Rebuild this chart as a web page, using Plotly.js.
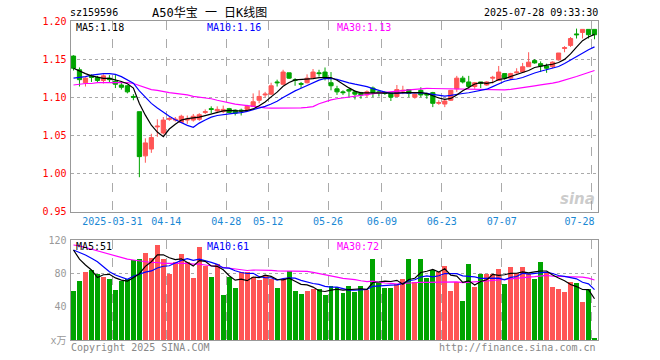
<!DOCTYPE html>
<html><head><meta charset="utf-8">
<script src="https://cdn.plot.ly/plotly-3.0.1.min.js"></script>
<style>html,body{margin:0;padding:0;background:#fff}#c{width:660px;height:360px}</style>
</head><body><div id="c"></div>
<script>
// ---- data (trading-day index 0..87, last = 2025-07-28) ----
const openP  = [1.154,1.136,1.119,1.128,1.126,1.122,1.125,1.121,1.116,1.115,1.101,1.081,1.023,1.032,1.061,1.053,1.071,1.070,1.067,1.070,1.070,1.071,1.080,1.085,1.082,1.081,1.085,1.083,1.083,1.084,1.088,1.096,1.103,1.104,1.120,1.117,1.132,1.123,1.118,1.119,1.125,1.132,1.133,1.119,1.111,1.107,1.110,1.107,1.106,1.103,1.112,1.107,1.106,1.105,1.101,1.108,1.110,1.100,1.109,1.104,1.106,1.092,1.091,1.096,1.111,1.125,1.120,1.114,1.120,1.116,1.125,1.122,1.131,1.125,1.132,1.133,1.140,1.148,1.144,1.141,1.140,1.149,1.164,1.168,1.183,1.185,1.189,1.189];
const highP  = [1.155,1.139,1.126,1.130,1.128,1.130,1.129,1.129,1.119,1.116,1.104,1.081,1.046,1.052,1.071,1.074,1.075,1.074,1.077,1.076,1.078,1.079,1.084,1.088,1.088,1.089,1.086,1.084,1.085,1.090,1.105,1.109,1.107,1.119,1.123,1.136,1.132,1.125,1.120,1.130,1.137,1.136,1.139,1.133,1.115,1.109,1.111,1.109,1.107,1.109,1.114,1.108,1.108,1.105,1.116,1.115,1.110,1.105,1.113,1.106,1.107,1.096,1.098,1.109,1.128,1.128,1.128,1.120,1.120,1.121,1.128,1.141,1.131,1.132,1.138,1.145,1.159,1.150,1.147,1.144,1.147,1.158,1.167,1.179,1.190,1.189,1.189,1.189];
const lowP   = [1.135,1.114,1.114,1.120,1.119,1.118,1.119,1.112,1.110,1.105,1.096,0.995,1.014,1.027,1.048,1.051,1.069,1.068,1.066,1.065,1.068,1.069,1.078,1.079,1.079,1.079,1.079,1.076,1.076,1.083,1.087,1.092,1.100,1.103,1.114,1.116,1.124,1.115,1.112,1.118,1.125,1.127,1.122,1.109,1.103,1.103,1.100,1.097,1.098,1.100,1.100,1.101,1.103,1.095,1.101,1.104,1.100,1.098,1.100,1.098,1.087,1.090,1.087,1.095,1.107,1.118,1.111,1.111,1.112,1.115,1.118,1.122,1.123,1.123,1.131,1.133,1.140,1.144,1.133,1.132,1.138,1.148,1.159,1.166,1.177,1.177,1.177,1.176];
const closeP = [1.138,1.123,1.125,1.126,1.122,1.128,1.123,1.117,1.113,1.107,1.100,1.022,1.040,1.047,1.062,1.070,1.072,1.071,1.075,1.071,1.075,1.077,1.081,1.084,1.084,1.084,1.080,1.079,1.082,1.088,1.094,1.101,1.104,1.115,1.119,1.133,1.125,1.122,1.117,1.125,1.133,1.131,1.125,1.115,1.107,1.106,1.108,1.104,1.103,1.107,1.106,1.106,1.105,1.100,1.110,1.109,1.105,1.104,1.103,1.103,1.092,1.093,1.095,1.109,1.125,1.120,1.114,1.119,1.118,1.120,1.126,1.133,1.125,1.131,1.133,1.140,1.146,1.145,1.141,1.138,1.146,1.158,1.165,1.177,1.182,1.189,1.182,1.182];
const ma5  = [1.138,1.134,1.131,1.128,1.1268,1.1248,1.1248,1.1232,1.1206,1.1176,1.112,1.0918,1.0764,1.0632,1.0542,1.0482,1.0582,1.0644,1.07,1.0718,1.0728,1.0738,1.0758,1.0776,1.0802,1.082,1.0826,1.0822,1.0818,1.0826,1.0846,1.0888,1.0938,1.1004,1.1066,1.1144,1.1192,1.1228,1.1232,1.1244,1.1244,1.1256,1.1262,1.1258,1.1222,1.1168,1.1122,1.108,1.1056,1.1056,1.1056,1.1052,1.1054,1.1048,1.1054,1.106,1.1058,1.1056,1.1062,1.1048,1.1014,1.099,1.0972,1.0984,1.1028,1.1084,1.1126,1.1174,1.1192,1.1182,1.1194,1.1232,1.1244,1.127,1.1296,1.1324,1.135,1.139,1.141,1.142,1.1432,1.1456,1.1496,1.1568,1.1656,1.1742,1.179,1.1824];
const ma10 = [1.125,1.126,1.127,1.129,1.130,1.131,1.131,1.130,1.127,1.1222,1.1184,1.1083,1.0998,1.0919,1.0859,1.0801,1.075,1.0704,1.0666,1.063,1.0605,1.066,1.0701,1.0738,1.076,1.0774,1.0782,1.079,1.0797,1.0814,1.0833,1.0857,1.088,1.0911,1.0946,1.0995,1.104,1.1083,1.1118,1.1155,1.1194,1.1224,1.1245,1.1245,1.1233,1.1206,1.1189,1.1171,1.1157,1.1139,1.1112,1.1087,1.1067,1.1052,1.1055,1.1058,1.1055,1.1055,1.1055,1.1051,1.1037,1.1024,1.1014,1.1023,1.1038,1.1049,1.1058,1.1073,1.1088,1.1105,1.1139,1.1179,1.1209,1.1231,1.1239,1.1259,1.1291,1.1317,1.134,1.1358,1.1378,1.1403,1.1443,1.1489,1.1538,1.1587,1.1623,1.166];
const ma30 = [1.116,1.117,1.118,1.118,1.119,1.119,1.119,1.119,1.119,1.119,1.118,1.115,1.113,1.110,1.109,1.107,1.106,1.105,1.104,1.103,1.101,1.100,1.099,1.098,1.096,1.094,1.092,1.091,1.090,1.0889,1.0874,1.0867,1.086,1.0856,1.0855,1.0857,1.0857,1.0859,1.086,1.0866,1.0877,1.0914,1.0942,1.0965,1.098,1.0992,1.1004,1.1015,1.1024,1.1036,1.1046,1.1056,1.1064,1.1069,1.1078,1.1086,1.1095,1.1103,1.111,1.1115,1.1114,1.1112,1.1109,1.1107,1.1109,1.1104,1.1101,1.11,1.11,1.1098,1.1096,1.1097,1.1097,1.1102,1.1111,1.1122,1.1135,1.1148,1.1161,1.1171,1.1185,1.1202,1.1222,1.1248,1.1272,1.1298,1.1324,1.135];
const volume = [58.8,70.8,81.6,84,79.6,75.6,73.2,60,71.2,73.2,96,97.2,104.4,98.8,114,96.8,79.6,93.2,103.2,93.2,74.4,112,89.2,75.6,90.8,54,76,62.8,81.6,81.6,76,72.4,78,73.6,62.8,73.6,83.2,58.8,55.6,59.2,60.8,61.2,54,64.4,64,56,64.8,58,64.8,60,97.2,68,62.8,62.8,67.2,73.2,97.2,70,97.2,74.8,84,82,89.2,58.8,69.2,46.8,91.2,64,79.6,79.6,79.6,85.2,67.6,88,80,87.6,79.6,73.2,93.6,80,63.6,61.2,57.6,70,68,46,60.8,2.8];
// volume bar colour: 1 = red, 0 = green
const volUp = [0,0,1,0,0,1,0,0,0,0,0,0,1,1,1,1,1,1,1,1,1,1,1,0,1,0,0,0,1,1,1,1,1,1,0,1,0,0,0,1,1,0,0,0,0,0,0,0,0,1,0,0,0,0,1,1,0,1,0,0,0,1,1,1,1,0,0,1,0,1,1,1,0,1,1,1,1,0,0,1,1,1,1,1,0,1,0,0];
const vma5  = [108,97,90,84,75.0,78.3,78.8,74.5,71.9,70.6,74.7,79.5,88.4,93.9,102.1,102.2,98.7,96.5,97.4,93.2,88.7,95.2,94.4,88.9,88.4,84.3,77.1,71.8,73.0,71.2,75.6,74.9,77.9,76.3,72.6,72.1,74.2,70.4,66.8,66.1,63.5,59.1,58.2,59.9,60.9,59.9,60.6,61.4,61.5,60.7,69.0,69.6,70.6,70.2,71.6,66.8,72.6,74.1,81.0,82.5,84.6,81.6,85.4,77.8,76.6,69.2,71.0,66.0,70.2,72.2,78.8,77.6,78.3,80.0,80.1,81.7,80.6,81.7,82.8,82.8,78.0,74.3,71.2,66.5,64.1,60.6,60.5,49.5];
const vma10 = [108,105,102,98,94,88,82,78,75,72.8,76.5,79.2,81.4,82.9,86.4,88.5,89.1,92.4,95.6,97.6,95.5,97.0,95.4,93.1,90.8,86.5,86.2,83.1,81.0,79.8,80.0,76.0,74.9,74.7,71.9,73.8,74.6,74.2,71.6,69.3,67.8,66.7,64.3,63.4,63.5,61.7,59.9,59.8,60.7,60.8,64.4,65.1,66.0,65.8,66.2,67.9,71.1,72.3,75.6,77.0,75.7,77.1,79.8,79.4,79.6,76.9,76.3,75.7,74.0,74.4,74.0,74.3,72.2,75.1,76.2,80.2,79.1,80.0,81.4,81.4,79.8,77.4,76.4,74.6,73.4,69.3,67.4,60.4];
const vma30 = [114,113,111,109,107,105,103,101,99,97,96,95,94,93,93,92,92,92,92,92,91,91,90,89,88,87,86,85,84,83.4,84.0,84.0,83.9,83.6,83.0,82.9,83.3,83.2,82.7,82.3,81.1,79.9,78.2,77.1,75.4,74.0,73.5,72.4,71.1,70.0,70.7,69.3,68.4,68.0,67.2,67.8,68.5,68.8,69.3,69.1,69.3,69.6,70.0,69.5,69.7,68.8,69.1,69.3,70.1,70.8,71.4,72.2,72.6,73.4,74.0,75.0,75.5,76.0,77.0,77.6,76.5,76.3,76.1,76.4,76.4,75.5,74.3,72.0];
const tickIdx  = [7,16,26,33,43,52,62,72,87];
const tickText = ['2025-03-31','04-14','04-28','05-12','05-26','06-09','06-23','07-07','07-28\u00a0\u00a0\u00a0\u00a0'];
const priceTicks = [0.95,1.00,1.05,1.10,1.15,1.20];
const volTicks = [0,40,80,120];
const volTickText = ['x万','40','80','120'];

// ---- drawing ----
const RED = '#ff5555', GREEN = '#00a400';
const MONO = 'DejaVu Sans Mono, Noto Sans CJK SC, monospace';
const idx = closeP.map((_, i) => i);
const volColor = volUp.map(u => u ? RED : GREEN);
const tickPos = tickIdx.map(v => v - 0.5);
const XD = [70.5/660, 597.5/660];
const py = p => 1 - p/360;

const traces = [
  {type:'candlestick', x:idx, open:openP, high:highP, low:lowP, close:closeP,
   xaxis:'x', yaxis:'y', whiskerwidth:0, hoverinfo:'skip',
   increasing:{line:{color:RED,width:1}, fillcolor:RED},
   decreasing:{line:{color:GREEN,width:1}, fillcolor:GREEN}},
  {type:'scatter', mode:'lines', x:idx, y:ma30, xaxis:'x', yaxis:'y', line:{color:'#ff00ff',width:1.2}, hoverinfo:'skip'},
  {type:'scatter', mode:'lines', x:idx, y:ma10, xaxis:'x', yaxis:'y', line:{color:'#0000ff',width:1.2}, hoverinfo:'skip'},
  {type:'scatter', mode:'lines', x:idx, y:ma5,  xaxis:'x', yaxis:'y', line:{color:'#000000',width:1.2}, hoverinfo:'skip'},
  {type:'bar', x:idx, y:volume, xaxis:'x2', yaxis:'y2', width:0.83, marker:{color:volColor, line:{width:0}}, hoverinfo:'skip'},
  {type:'scatter', mode:'lines', x:idx, y:vma30, xaxis:'x2', yaxis:'y2', line:{color:'#ff00ff',width:1.2}, hoverinfo:'skip'},
  {type:'scatter', mode:'lines', x:idx, y:vma10, xaxis:'x2', yaxis:'y2', line:{color:'#0000ff',width:1.2}, hoverinfo:'skip'},
  {type:'scatter', mode:'lines', x:idx, y:vma5,  xaxis:'x2', yaxis:'y2', line:{color:'#000000',width:1.2}, hoverinfo:'skip'}
];

const axBase = {showline:true, mirror:true, linecolor:'#999', linewidth:1, zeroline:false, ticks:'', fixedrange:true};
const ann = (t, x, y, color, anchor, size) => ({text:t, x:x/660, y:py(y), xref:'paper', yref:'paper',
  xanchor:anchor||'left', yanchor:'middle', showarrow:false, font:{family:MONO, size:size||10, color:color}});

const layout = {
  width:660, height:360, margin:{l:0,r:0,t:0,b:0}, showlegend:false,
  paper_bgcolor:'#fff', plot_bgcolor:'#fff', boxgap:0.3, boxgroupgap:0, bargap:0,
  xaxis: Object.assign({}, axBase, {domain:XD, anchor:'y', range:[-0.5,87.5], tickvals:tickPos, ticktext:tickText,
    showgrid:true, griddash:'dash', gridcolor:'#aaa', gridwidth:1, rangeslider:{visible:false},
    tickfont:{family:MONO, size:10, color:'#1a88d4'}}),
  yaxis: Object.assign({}, axBase, {domain:[py(211.5), py(21)], anchor:'x', range:[0.95,1.20], tickvals:priceTicks,
    ticktext:priceTicks.map(v=>v.toFixed(2)), showgrid:true, griddash:'dot', gridcolor:'#aaa', gridwidth:1,
    tickfont:{family:MONO, size:10, color:'#ff0000'}, ticklabelstandoff:1}),
  xaxis2: Object.assign({}, axBase, {domain:XD, anchor:'y2', range:[-0.5,87.5], tickvals:tickPos, showticklabels:false,
    showgrid:true, griddash:'dash', gridcolor:'#aaa', gridwidth:1}),
  yaxis2: Object.assign({}, axBase, {domain:[py(340), py(240)], anchor:'x2', range:[0,120], tickvals:volTicks,
    ticktext:volTickText, showgrid:true, griddash:'dot', gridcolor:'#aaa', gridwidth:1,
    tickfont:{family:MONO, size:10, color:'#999'}, ticklabelstandoff:1}),
  annotations:[
    ann('sz159596', 68, 13, '#000'),
    ann('A50华宝 一 日K线图', 150, 13, '#000', 'left', 12),
    ann('2025-07-28 09:33:30', 600, 13, '#000', 'right'),
    ann('MA5:1.18', 74, 28, '#000'),
    ann('MA10:1.16', 205, 28, '#0000ff'),
    ann('MA30:1.13', 335, 28, '#ff00ff'),
    ann('MA5:51', 74, 246, '#000'),
    ann('MA10:61', 205, 246, '#0000ff'),
    ann('MA30:72', 335, 246, '#ff00ff'),
    ann('Copyright 2025 SINA.COM', 69, 347, '#888'),
    ann('http://finance.sina.com.cn', 598, 347, '#888', 'right'),
    {text:'<b><i>sina</i></b>', x:597/660, y:py(199), xref:'paper', yref:'paper', xanchor:'right', yanchor:'middle',
     showarrow:false, font:{family:'DejaVu Sans', size:15, color:'rgba(160,160,160,0.55)'}}
  ]
};
Plotly.newPlot('c', traces, layout, {staticPlot:true, displayModeBar:false});
</script></body></html>
